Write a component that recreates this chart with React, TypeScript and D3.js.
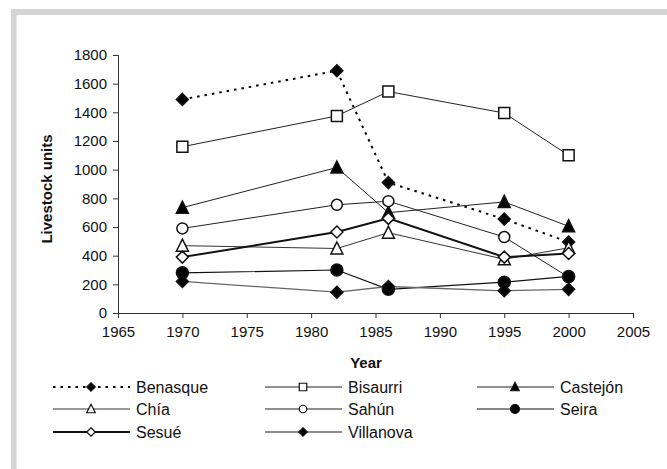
import React, { useEffect, useRef } from 'react';
import * as d3 from 'd3';

const years = [1970, 1982, 1986, 1995, 2000];
const xTicks = [1965, 1970, 1975, 1980, 1985, 1990, 1995, 2000, 2005];
const yTicks = [0, 200, 400, 600, 800, 1000, 1200, 1400, 1600, 1800];

const benasque = [1490, 1690, 910, 655, 495];
const bisaurri = [1160, 1375, 1545, 1395, 1100];
const castejon = [735, 1015, 700, 775, 605];
const chia = [470, 450, 560, 375, 455];
const sahun = [590, 755, 780, 530, 250];
const seira = [280, 300, 165, 215, 255];
const sesue = [390, 565, 660, 390, 415];
const villanova = [220, 145, 185, 155, 165];

const series = [
  { name: 'Benasque', values: benasque, shape: 'diamond', fill: true, color: '#000', width: 2, dash: '2.5,5' },
  { name: 'Bisaurri', values: bisaurri, shape: 'square', fill: false, color: '#222', width: 1 },
  { name: 'Castejón', values: castejon, shape: 'triangle', fill: true, color: '#222', width: 1 },
  { name: 'Chía', values: chia, shape: 'triangle', fill: false, color: '#333', width: 1 },
  { name: 'Sahún', values: sahun, shape: 'circle', fill: false, color: '#222', width: 1 },
  { name: 'Seira', values: seira, shape: 'circle', fill: true, color: '#111', width: 1.2 },
  { name: 'Sesué', values: sesue, shape: 'diamond', fill: false, color: '#111', width: 2 },
  { name: 'Villanova', values: villanova, shape: 'diamond', fill: true, color: '#666', width: 1.3 },
];

function markerPath(shape: string, x: number, y: number, s: number) {
  const h = s / 2;
  if (shape === 'square') return `M${x - h},${y - h}h${s}v${s}h${-s}Z`;
  if (shape === 'diamond') return `M${x},${y - h - 0.5}L${x + h + 0.5},${y}L${x},${y + h + 0.5}L${x - h - 0.5},${y}Z`;
  if (shape === 'triangle') return `M${x},${y - h - 1}L${x + h + 0.5},${y + h}L${x - h - 0.5},${y + h}Z`;
  const r = h;
  return `M${x - r},${y}a${r},${r} 0 1,0 ${2 * r},0a${r},${r} 0 1,0 ${-2 * r},0Z`;
}

const App = () => {
  const svgRef = useRef(null);

  useEffect(() => {
    const svg = d3.select(svgRef.current);
    svg.selectAll('*').remove();
    const font = '"Liberation Sans", Arial, sans-serif';

    svg.append('rect').attr('width', 667).attr('height', 469).attr('fill', '#fff');
    svg.append('rect').attr('x', 11).attr('y', 9).attr('width', 656).attr('height', 6).attr('fill', '#d4d4d4');
    svg.append('rect').attr('x', 11).attr('y', 9).attr('width', 5.5).attr('height', 460).attr('fill', '#d4d4d4');

    const x = d3.scaleLinear().domain([1965, 2005]).range([118, 633]);
    const y = d3.scaleLinear().domain([0, 1800]).range([313, 55]);

    const xAxis = svg.append('g').attr('transform', 'translate(0,313)')
      .call(d3.axisBottom(x).tickValues(xTicks).tickFormat(d3.format('d')).tickSize(5).tickPadding(8));
    const yAxis = svg.append('g').attr('transform', 'translate(118,0)')
      .call(d3.axisLeft(y).tickValues(yTicks).tickFormat(d3.format('d')).tickSize(5).tickPadding(6));
    [xAxis, yAxis].forEach(a => {
      a.select('.domain').attr('stroke', '#333');
      a.selectAll('line').attr('stroke', '#333');
      a.selectAll('text').attr('font-family', font).attr('font-size', 15).attr('fill', '#111');
    });

    svg.append('text').attr('x', 366).attr('y', 368).attr('text-anchor', 'middle')
      .attr('font-family', font).attr('font-weight', 'bold').attr('font-size', 15).attr('fill', '#111').text('Year');
    svg.append('text').attr('transform', 'translate(52,189) rotate(-90)').attr('text-anchor', 'middle')
      .attr('font-family', font).attr('font-weight', 'bold').attr('font-size', 15).attr('fill', '#111').text('Livestock units');

    const line = d3.line<number>().x((d, i) => x(years[i])).y(d => y(d));

    series.forEach(s => {
      svg.append('path').attr('d', line(s.values)).attr('fill', 'none')
        .attr('stroke', s.color).attr('stroke-width', s.width).attr('stroke-dasharray', s.dash || null);
      s.values.forEach((v, i) => {
        const size = s.shape === 'circle' && s.fill ? 12 : 11;
        svg.append('path').attr('d', markerPath(s.shape, x(years[i]), y(v), size))
          .attr('fill', s.fill ? '#000' : '#fff').attr('stroke', '#111').attr('stroke-width', 1.5);
      });
    });

    // legend
    const colX = [53, 265, 477];
    const rowY = [387, 409, 432];
    series.forEach((s, i) => {
      const cx = colX[i % 3];
      const cy = rowY[Math.floor(i / 3)];
      const g = svg.append('g');
      g.append('line').attr('x1', cx).attr('x2', cx + 77).attr('y1', cy).attr('y2', cy)
        .attr('stroke', s.color).attr('stroke-width', s.width).attr('stroke-dasharray', s.dash || null);
      const size = s.shape === 'circle' && s.fill ? 9 : 7.5;
      g.append('path').attr('d', markerPath(s.shape, cx + 38, cy, size))
        .attr('fill', s.fill ? '#000' : '#fff').attr('stroke', '#111').attr('stroke-width', 1.2);
      g.append('text').attr('x', cx + 83).attr('y', cy + 5.5).attr('font-family', font).attr('font-size', 16)
        .attr('fill', '#111').text(s.name);
    });
  }, []);

  return (
    <div style={{ position: 'absolute', left: 0, top: 0 }}>
      <svg ref={svgRef} width={667} height={469} style={{ display: 'block' }}></svg>
    </div>
  );
};

export default App;
